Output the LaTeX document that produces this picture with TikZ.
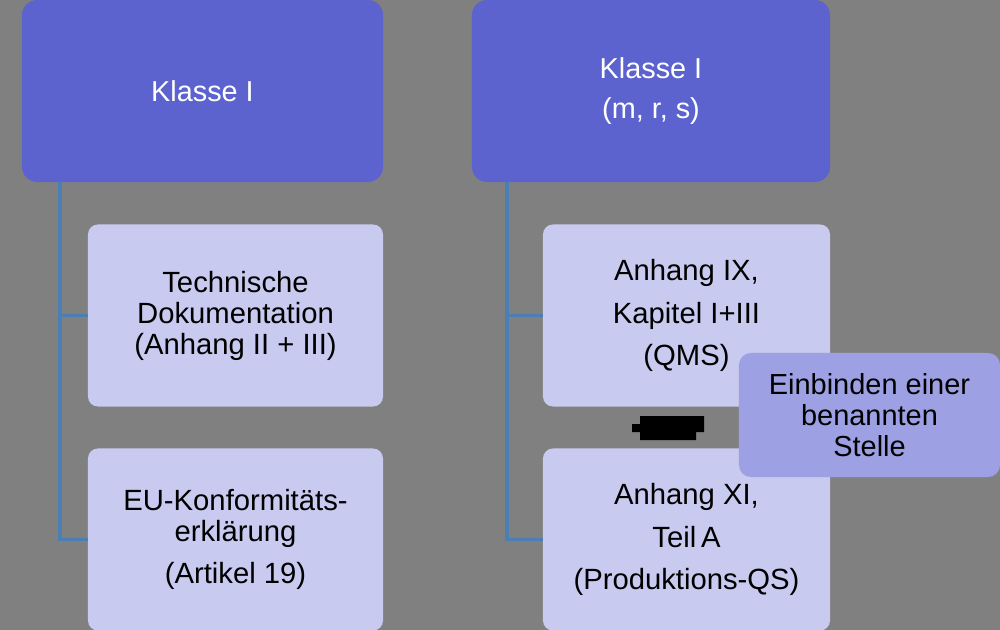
\documentclass[tikz,border=0pt]{standalone}
\usepackage{fontspec}
\setmainfont{Liberation Sans}
\definecolor{bggray}{HTML}{808080}
\definecolor{klasseblue}{HTML}{5C63CF}
\definecolor{partlav}{HTML}{C8CAEF}
\definecolor{calllav}{HTML}{9DA0E3}
\definecolor{linkblue}{HTML}{4A7EB5}
\begin{document}
\begin{tikzpicture}[x=0.025cm,y=-0.025cm,
    klasse/.style={fill=klasseblue,text=white,rounded corners=0.38cm,inner sep=0pt,
      minimum height=4.55cm,align=center,font=\fontsize{20.5}{29}\selectfont},
    part/.style={fill=partlav,rounded corners=0.25cm,inner sep=0pt,minimum width=7.375cm,
      minimum height=4.55cm,align=center,font=\fontsize{20.8}{22}\selectfont},
    callout/.style={fill=calllav,rounded corners=0.3cm,inner sep=0pt,minimum width=6.525cm,
      minimum height=3.1cm,align=center,font=\fontsize{20.6}{22}\selectfont},
    link/.style={draw=linkblue,line width=2.2pt}]
        \fill[bggray] (0,0) rectangle (1000,630);
        \useasboundingbox (0,0) rectangle (1000,630);

        \node[klasse,minimum width=9.025cm] (klL) at (202.5,91) {Klasse I};
        \node[klasse,minimum width=8.95cm] (klR) at (651,91) {Klasse I\\(m, r, s)};

        \node[part] (tdL) at (235.5,315.5) {Technische\\Dokumentation\\(Anhang II + III)};
        \node[part] (euL) at (235.5,539.5) {EU-Konformitäts-\\erklärung\\[8pt](Artikel 19)};
        \node[part,minimum width=7.175cm] (qmR) at (686.5,315.5) {Anhang IX,\\[8pt]Kapitel I+III\\[8pt](QMS)};
        \node[part,minimum width=7.175cm] (qsR) at (686.5,539.5) {Anhang XI,\\[8pt]Teil\,A\\[8pt](Produktions-QS)};

        \coordinate (tL) at (60,182);
        \coordinate (tR) at (507,182);
        \draw[link] (tL) |- (tdL.west);
        \draw[link] (tL) |- (euL.west);
        \draw[link] (tR) |- (qmR.west);
        \draw[link] (tR) |- (qsR.west);

        \fill[black] (632,424) -- (640,424) -- (640,416) -- (704,416) -- (704,432) -- (696,432)
          -- (696,440) -- (640,440) -- (640,432) -- (632,432) -- cycle;

        \node[callout] (stelle) at (869.5,415) {Einbinden einer\\benannten\\Stelle};
      \end{tikzpicture}
\end{document}
